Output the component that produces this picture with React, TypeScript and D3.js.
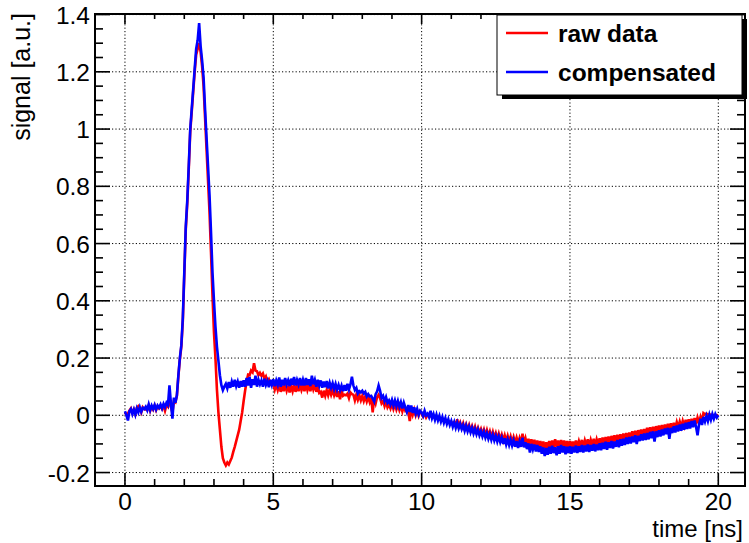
import React from 'react';
import * as d3 from 'd3';

// sampling step of both waveforms (ns), first sample at t = 0
const SAMPLE_STEP = 0.05;

// raw data (red), one value per 0.05 ns from 0 to 20 ns
const rawData: number[] = [
  // 0-1
  0.010, 0.002, 0.006, 0.016, 0.024, 0.008, 0.020, 0.004, 0.026, 0.032, 0.024, 0.010, 0.028, 0.022, 0.020, 0.018, 0.034, 0.016, 0.030, 0.020,
  // 1-2
  0.034, 0.018, 0.032, 0.024, 0.030, 0.022, 0.034, 0.016, 0.036, 0.030, 0.060, 0.030, 0.010, 0.050, 0.046, 0.068, 0.135, 0.195, 0.240, 0.330,
  // 2-3
  0.490, 0.650, 0.740, 0.860, 0.990, 1.060, 1.130, 1.200, 1.260, 1.280, 1.300, 1.270, 1.220, 1.150, 1.040, 0.930, 0.820, 0.710, 0.570, 0.420,
  // 3-4
  0.290, 0.200, 0.090, 0.010, -0.050, -0.110, -0.150, -0.165, -0.175, -0.165, -0.172, -0.160, -0.148, -0.128, -0.110, -0.090, -0.070, -0.050, -0.020, 0.010,
  // 4-5
  0.050, 0.086, 0.118, 0.142, 0.140, 0.156, 0.150, 0.182, 0.156, 0.154, 0.140, 0.148, 0.138, 0.146, 0.128, 0.136, 0.118, 0.126, 0.110, 0.116,
  // 5-6
  0.112, 0.090, 0.108, 0.088, 0.106, 0.082, 0.104, 0.084, 0.108, 0.086, 0.104, 0.080, 0.102, 0.084, 0.106, 0.082, 0.102, 0.084, 0.108, 0.088,
  // 6-7
  0.104, 0.084, 0.110, 0.088, 0.106, 0.084, 0.112, 0.090, 0.106, 0.082, 0.100, 0.078, 0.082, 0.062, 0.086, 0.068, 0.088, 0.070, 0.090, 0.072,
  // 7-8
  0.088, 0.070, 0.086, 0.064, 0.084, 0.056, 0.088, 0.068, 0.072, 0.070, 0.076, 0.060, 0.080, 0.074, 0.072, 0.052, 0.072, 0.054, 0.070, 0.052,
  // 8-9
  0.068, 0.050, 0.066, 0.048, 0.064, 0.046, 0.062, 0.010, 0.060, 0.042, 0.064, 0.072, 0.060, 0.042, 0.050, 0.032, 0.048, 0.028, 0.038, 0.024,
  // 9-10
  0.040, 0.022, 0.038, 0.020, 0.036, 0.018, 0.034, 0.014, 0.032, 0.016, 0.022, 0.014, -0.020, 0.024, 0.002, 0.020, 0.000, 0.016, -0.002, 0.014,
  // 10-11
  0.008, -0.004, 0.004, -0.008, 0.002, -0.004, -0.002, -0.006, -0.004, -0.010, -0.006, -0.012, -0.010, -0.016, -0.014, -0.020, -0.016, -0.024, -0.020, -0.028,
  // 11-12
  -0.022, -0.030, -0.024, -0.034, -0.014, -0.040, -0.026, -0.044, -0.028, -0.048, -0.032, -0.050, -0.034, -0.054, -0.038, -0.056, -0.040, -0.060, -0.044, -0.062,
  // 12-13
  -0.048, -0.066, -0.050, -0.070, -0.052, -0.072, -0.056, -0.076, -0.058, -0.078, -0.062, -0.082, -0.064, -0.084, -0.068, -0.088, -0.070, -0.090, -0.072, -0.092,
  // 13-14
  -0.074, -0.094, -0.076, -0.096, -0.078, -0.098, -0.080, -0.100, -0.064, -0.098, -0.080, -0.102, -0.082, -0.104, -0.084, -0.106, -0.086, -0.108, -0.088, -0.110,
  // 14-15
  -0.090, -0.112, -0.092, -0.116, -0.094, -0.118, -0.090, -0.114, -0.088, -0.112, -0.084, -0.110, -0.088, -0.114, -0.086, -0.110, -0.088, -0.112, -0.090, -0.114,
  // 15-16
  -0.090, -0.114, -0.092, -0.112, -0.088, -0.110, -0.090, -0.108, -0.086, -0.110, -0.088, -0.106, -0.084, -0.108, -0.086, -0.104, -0.082, -0.106, -0.084, -0.102,
  // 16-17
  -0.080, -0.102, -0.078, -0.100, -0.076, -0.098, -0.074, -0.096, -0.072, -0.094, -0.070, -0.092, -0.068, -0.090, -0.066, -0.088, -0.064, -0.086, -0.062, -0.082,
  // 17-18
  -0.060, -0.080, -0.056, -0.078, -0.054, -0.076, -0.052, -0.072, -0.050, -0.070, -0.048, -0.068, -0.044, -0.066, -0.042, -0.062, -0.040, -0.060, -0.038, -0.058,
  // 18-19
  -0.036, -0.056, -0.034, -0.054, -0.032, -0.052, -0.030, -0.050, -0.028, -0.048, -0.026, -0.046, -0.024, -0.042, -0.022, -0.040, -0.020, -0.038, -0.016, -0.036,
  // 19-20
  -0.014, -0.034, -0.012, -0.032, -0.010, -0.030, -0.008, -0.026, -0.006, -0.022, 0.008, 0.004, 0.006, 0.002, 0.004, 0.000, 0.002, -0.002, 0.002, -0.002,
  // 20
  0.002,
];

// compensated (blue), same sampling
const compensatedData: number[] = [
  // 0-1
  0.014, 0.000, -0.018, 0.014, 0.022, 0.004, 0.020, 0.002, 0.024, 0.010, 0.028, 0.012, 0.026, 0.022, 0.030, 0.018, 0.038, 0.018, 0.034, 0.022,
  // 1-2
  0.036, 0.020, 0.034, 0.026, 0.038, 0.024, 0.040, 0.028, 0.044, 0.036, 0.105, 0.040, -0.012, 0.062, 0.044, 0.070, 0.140, 0.200, 0.245, 0.340,
  // 2-3
  0.500, 0.660, 0.750, 0.870, 1.000, 1.070, 1.140, 1.210, 1.280, 1.310, 1.370, 1.290, 1.240, 1.180, 1.070, 0.970, 0.870, 0.770, 0.640, 0.500,
  // 3-4
  0.400, 0.310, 0.240, 0.190, 0.140, 0.105, 0.088, 0.100, 0.110, 0.094, 0.116, 0.096, 0.118, 0.100, 0.124, 0.102, 0.118, 0.096, 0.120, 0.100,
  // 4-5
  0.122, 0.100, 0.130, 0.104, 0.134, 0.096, 0.126, 0.106, 0.138, 0.100, 0.124, 0.108, 0.122, 0.100, 0.128, 0.106, 0.120, 0.098, 0.124, 0.106,
  // 5-6
  0.126, 0.102, 0.122, 0.106, 0.132, 0.100, 0.124, 0.104, 0.130, 0.108, 0.122, 0.102, 0.128, 0.106, 0.134, 0.104, 0.124, 0.108, 0.130, 0.104,
  // 6-7
  0.124, 0.104, 0.130, 0.106, 0.126, 0.102, 0.138, 0.108, 0.124, 0.100, 0.124, 0.104, 0.122, 0.096, 0.118, 0.098, 0.120, 0.094, 0.114, 0.096,
  // 7-8
  0.112, 0.092, 0.110, 0.090, 0.106, 0.088, 0.104, 0.084, 0.106, 0.086, 0.110, 0.090, 0.108, 0.135, 0.104, 0.088, 0.096, 0.076, 0.084, 0.080,
  // 8-9
  0.086, 0.076, 0.082, 0.066, 0.074, 0.066, 0.068, 0.058, 0.048, 0.074, 0.084, 0.104, 0.086, 0.060, 0.068, 0.050, 0.064, 0.044, 0.052, 0.038,
  // 9-10
  0.054, 0.034, 0.052, 0.032, 0.050, 0.030, 0.046, 0.024, 0.044, 0.028, 0.012, 0.036, 0.012, 0.034, 0.008, 0.028, 0.006, 0.022, 0.002, 0.016,
  // 10-11
  0.010, -0.002, 0.016, 0.000, 0.006, -0.006, 0.016, -0.010, 0.004, -0.016, 0.002, -0.018, -0.002, -0.022, -0.006, -0.026, -0.010, -0.030, -0.014, -0.034,
  // 11-12
  -0.020, -0.040, -0.024, -0.044, -0.026, -0.046, -0.030, -0.048, -0.034, -0.054, -0.036, -0.056, -0.040, -0.060, -0.044, -0.064, -0.048, -0.066, -0.050, -0.070,
  // 12-13
  -0.056, -0.074, -0.058, -0.078, -0.062, -0.082, -0.066, -0.086, -0.068, -0.088, -0.072, -0.092, -0.074, -0.094, -0.078, -0.100, -0.080, -0.102, -0.084, -0.104,
  // 13-14
  -0.086, -0.106, -0.088, -0.110, -0.090, -0.114, -0.092, -0.110, -0.078, -0.112, -0.094, -0.118, -0.098, -0.130, -0.100, -0.120, -0.102, -0.126, -0.104, -0.128,
  // 14-15
  -0.108, -0.134, -0.112, -0.142, -0.114, -0.138, -0.110, -0.134, -0.106, -0.132, -0.112, -0.140, -0.108, -0.134, -0.104, -0.130, -0.108, -0.136, -0.110, -0.132,
  // 15-16
  -0.108, -0.134, -0.110, -0.130, -0.106, -0.132, -0.108, -0.128, -0.104, -0.130, -0.106, -0.126, -0.102, -0.128, -0.104, -0.124, -0.100, -0.126, -0.102, -0.122,
  // 16-17
  -0.098, -0.122, -0.096, -0.118, -0.092, -0.120, -0.094, -0.114, -0.090, -0.116, -0.092, -0.110, -0.086, -0.112, -0.084, -0.106, -0.082, -0.104, -0.078, -0.100,
  // 17-18
  -0.076, -0.098, -0.074, -0.094, -0.070, -0.100, -0.072, -0.090, -0.066, -0.088, -0.064, -0.086, -0.062, -0.084, -0.058, -0.080, -0.056, -0.092, -0.056, -0.076,
  // 18-19
  -0.052, -0.074, -0.050, -0.070, -0.046, -0.066, -0.044, -0.082, -0.044, -0.062, -0.038, -0.060, -0.036, -0.056, -0.032, -0.054, -0.030, -0.050, -0.026, -0.048,
  // 19-20
  -0.024, -0.046, -0.020, -0.042, -0.018, -0.040, -0.070, -0.032, -0.012, -0.034, -0.006, -0.022, -0.002, -0.020, 0.002, -0.016, 0.004, -0.012, 0.004, -0.008,
  // 20
  0.000,
];

const xMajorTicks = [0, 5, 10, 15, 20];
const xTickLabels = ['0', '5', '10', '15', '20'];
const yMajorTicks = [-0.2, 0, 0.2, 0.4, 0.6, 0.8, 1.0, 1.2, 1.4];
const yTickLabels = ['-0.2', '0', '0.2', '0.4', '0.6', '0.8', '1', '1.2', '1.4'];
const seriesNames = ['raw data', 'compensated'];
const seriesColors = ['#ff0000', '#0000ff'];
const xTitle = 'time [ns]';
const yTitle = 'signal [a.u.]';

const W = 749;
const H = 543;
const FRAME = { left: 95, right: 745, top: 14, bottom: 486 };
const FONT = '"Liberation Sans", Arial, Helvetica, sans-serif';

export default function App() {
  const x = d3.scaleLinear().domain([-1.01, 20.9]).range([FRAME.left, FRAME.right]);
  const y = d3.scaleLinear().domain([-0.247, 1.402]).range([FRAME.bottom, FRAME.top]);

  const line = d3
    .line<number>()
    .x((_, i) => x(i * SAMPLE_STEP))
    .y((d) => y(d));

  const xMinor = d3.range(0, 21, 1).filter((v) => !xMajorTicks.includes(v));
  const yMinor = d3.range(-0.2, 1.4001, 0.05).filter(
    (v) => !yMajorTicks.some((m) => Math.abs(m - v) < 1e-6)
  );

  const series = [rawData, compensatedData];

  return (
    <svg
      width={W}
      height={H}
      style={{ position: 'absolute', left: 0, top: 0, background: '#fff' }}
      fontFamily={FONT}
    >
      <rect x={0} y={0} width={W} height={H} fill="#fff" />
      {/* grid */}
      <g stroke="#000" strokeWidth={1} strokeDasharray="1.2,2.2">
        {xMajorTicks.map((v) => (
          <line key={'gx' + v} x1={x(v)} x2={x(v)} y1={FRAME.top} y2={FRAME.bottom} />
        ))}
        {yMajorTicks.map((v) => (
          <line key={'gy' + v} x1={FRAME.left} x2={FRAME.right} y1={y(v)} y2={y(v)} />
        ))}
      </g>
      {/* series */}
      {series.map((s, i) => (
        <path
          key={'s' + i}
          d={line(s) || ''}
          fill="none"
          stroke={seriesColors[i]}
          strokeWidth={2.6}
          strokeLinejoin="miter"
        />
      ))}
      {/* ticks */}
      <g stroke="#000" strokeWidth={1.6}>
        {xMajorTicks.map((v) => (
          <g key={'tx' + v}>
            <line x1={x(v)} x2={x(v)} y1={FRAME.bottom} y2={FRAME.bottom - 13} />
            <line x1={x(v)} x2={x(v)} y1={FRAME.top} y2={FRAME.top + 10} />
          </g>
        ))}
        {xMinor.map((v) => (
          <g key={'mx' + v}>
            <line x1={x(v)} x2={x(v)} y1={FRAME.bottom} y2={FRAME.bottom - 7} />
            <line x1={x(v)} x2={x(v)} y1={FRAME.top} y2={FRAME.top + 5} />
          </g>
        ))}
        {yMajorTicks.map((v) => (
          <g key={'ty' + v}>
            <line x1={FRAME.left} x2={FRAME.left + 15} y1={y(v)} y2={y(v)} />
            <line x1={FRAME.right} x2={FRAME.right - 15} y1={y(v)} y2={y(v)} />
          </g>
        ))}
        {yMinor.map((v) => (
          <g key={'my' + v.toFixed(2)}>
            <line x1={FRAME.left} x2={FRAME.left + 8} y1={y(v)} y2={y(v)} />
            <line x1={FRAME.right} x2={FRAME.right - 8} y1={y(v)} y2={y(v)} />
          </g>
        ))}
      </g>
      {/* frame */}
      <rect
        x={FRAME.left}
        y={FRAME.top}
        width={FRAME.right - FRAME.left}
        height={FRAME.bottom - FRAME.top}
        fill="none"
        stroke="#000"
        strokeWidth={2}
      />
      {/* tick labels */}
      <g fontSize={24.5} fill="#000">
        {xMajorTicks.map((v, i) => (
          <text key={'lx' + v} x={x(v)} y={509.5} textAnchor="middle">
            {xTickLabels[i]}
          </text>
        ))}
        {yMajorTicks.map((v, i) => (
          <text key={'ly' + v} x={90} y={y(v) + 9} textAnchor="end">
            {yTickLabels[i]}
          </text>
        ))}
      </g>
      {/* axis titles */}
      <text x={743} y={537} fontSize={24} textAnchor="end" fill="#000">
        {xTitle}
      </text>
      <text
        transform={`translate(30, 13) rotate(-90)`}
        fontSize={25}
        textAnchor="end"
        fill="#000"
      >
        {yTitle}
      </text>
      {/* legend */}
      <rect x={502} y={19} width={245} height={80} fill="#000" />
      <rect x={497} y={15} width={245} height={80} fill="#fff" stroke="#000" strokeWidth={1} />
      {seriesNames.map((name, i) => (
        <g key={'leg' + i}>
          <line
            x1={506}
            x2={548}
            y1={33 + i * 39}
            y2={33 + i * 39}
            stroke={seriesColors[i]}
            strokeWidth={2.4}
          />
          <text x={558} y={42 + i * 39} fontSize={24.5} fontWeight="bold" fill="#000">
            {name}
          </text>
        </g>
      ))}
    </svg>
  );
}
